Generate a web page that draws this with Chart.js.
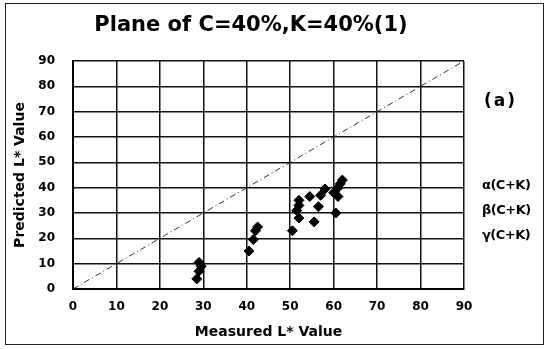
<!DOCTYPE html>
<html>
<head>
<meta charset="utf-8">
<script src="https://cdn.jsdelivr.net/npm/chart.js@4"></script>
<style>
  body { margin: 0; background: #fff; }
  #wrap { position: relative; width: 548px; height: 349px; }
  #frame { position: absolute; left: 5px; top: 3px; width: 539px; height: 342px; border: 1px solid #222; box-sizing: border-box; pointer-events: none; }
  .lbl { position: absolute; font-family: "DejaVu Sans", sans-serif; font-weight: bold; color: #000; white-space: nowrap; }
  #title { left: 0; width: 502px; top: 12px; text-align: center; font-size: 21px; }
  #tagA { left: 484px; top: 90px; font-size: 17px; letter-spacing: 2px; }
  .sub { left: 482px; font-size: 13px; letter-spacing: -0.5px; }
</style>
</head>
<body>
<div id="wrap">
  <canvas id="myChart" width="548" height="349"></canvas>
  <div id="frame"></div>
  <div class="lbl" id="title">Plane of C=40%,K=40%(1)</div>
  <div class="lbl" id="tagA">(a)</div>
  <div class="lbl sub" style="top:177px">α(C+K)</div>
  <div class="lbl sub" style="top:202px">β(C+K)</div>
  <div class="lbl sub" style="top:227px">γ(C+K)</div>
</div>
<script>
// measured vs predicted L* values
const measured = [28.5, 29, 29.5, 29, 40.5, 41.5, 42, 42.5, 50.5, 52, 51.5, 52, 52, 54.5, 55.5, 56.5, 57, 58, 60.5, 61, 61, 60, 61.5, 62];
const predicted = [4, 7, 9, 10.5, 15, 19.5, 23, 24.5, 23, 28, 31, 33, 35, 36.5, 26.5, 32.5, 37, 39.5, 30, 36.5, 40, 38, 41.5, 43];
const refX = [0, 90];
const refY = [0, 90];
const ticks = [0, 10, 20, 30, 40, 50, 60, 70, 80, 90];

const points = measured.map((x, i) => ({ x: x, y: predicted[i] }));
const refLine = refX.map((x, i) => ({ x: x, y: refY[i] }));

const tickFont = { family: "DejaVu Sans", weight: "bold", size: 12 };
const titleFont = { family: "DejaVu Sans", weight: "bold", size: 14 };
const gridStyle = { color: '#111', lineWidth: 1.5, drawTicks: false };

const config = {
  type: 'scatter',
  data: {
    datasets: [{
      data: points,
      pointStyle: 'rectRot',
      pointRadius: 5,
      backgroundColor: '#000',
      borderColor: '#000'
    }, {
      type: 'line',
      data: refLine,
      borderColor: '#333',
      borderWidth: 1,
      borderDash: [6, 3, 1, 3],
      pointRadius: 0,
      fill: false
    }]
  },
  options: {
    responsive: false,
    animation: false,
    layout: { padding: { left: 8, right: 84, top: 61, bottom: 0 } },
    plugins: { legend: { display: false }, tooltip: { enabled: false } },
    scales: {
      x: {
        type: 'linear', min: 0, max: 90,
        afterBuildTicks: axis => { axis.ticks = ticks.map(v => ({ value: v })); },
        afterFit: axis => { axis.height = 60; },
        ticks: { color: '#000', font: tickFont, padding: 11 },
        grid: gridStyle,
        border: { color: '#000', width: 2 },
        title: { display: true, text: 'Measured L* Value', color: '#000', font: titleFont, padding: { top: 4, bottom: 8 } }
      },
      y: {
        type: 'linear', min: 0, max: 90,
        afterBuildTicks: axis => { axis.ticks = ticks.map(v => ({ value: v })); },
        afterFit: axis => { axis.width = 65; },
        ticks: { color: '#000', font: tickFont, padding: 18 },
        grid: gridStyle,
        border: { color: '#000', width: 2 },
        title: { display: true, text: 'Predicted L* Value', color: '#000', font: titleFont, padding: 4 }
      }
    }
  }
};

let myChart = new Chart(document.getElementById('myChart'), config);
</script>
</body>
</html>
